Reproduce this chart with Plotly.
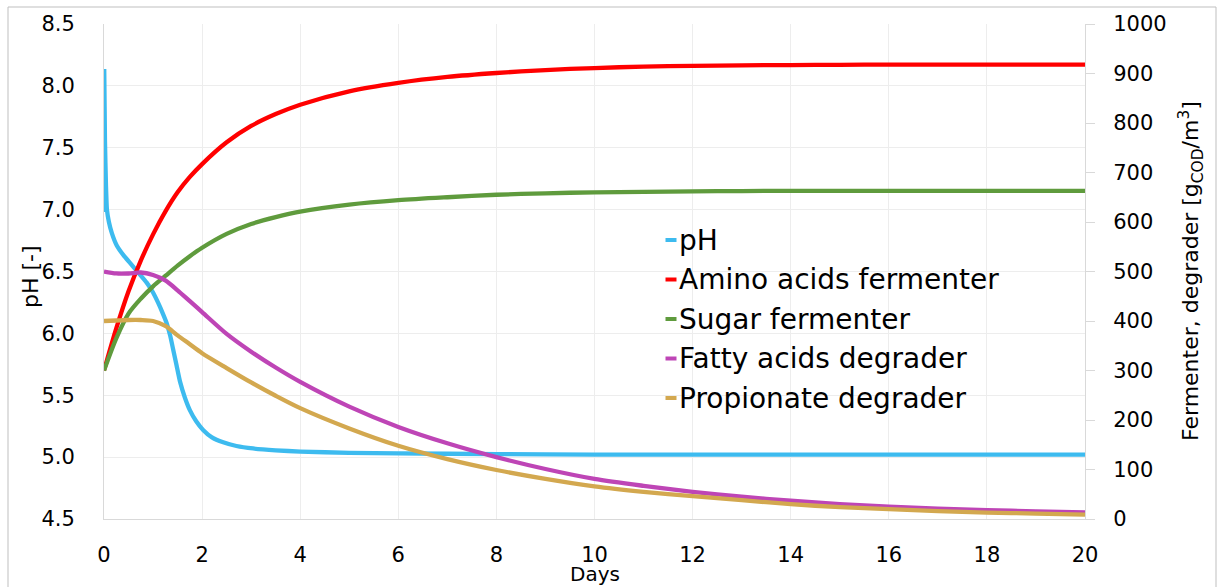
import plotly.graph_objects as go

# ---- data -------------------------------------------------------------
days = [0, 0.25, 0.5, 0.75, 1, 1.25, 1.5, 1.75, 2, 2.5, 3, 3.5, 4, 5, 6, 7, 8,
        9, 10, 11, 12, 13, 14, 15, 16, 17, 18, 19, 20]

amino_acids = [300, 385, 460, 522, 575, 621, 660, 691, 717, 761, 794, 818, 837,
               864, 881, 893, 901, 907, 911, 914, 915.5, 916.5, 917, 917.5, 918,
               918, 918, 918, 918]
sugar = [300, 365, 415, 445, 470, 491, 512, 531, 548, 576, 596, 610, 621, 635,
         644, 650, 655, 658, 660, 661, 662, 662.5, 663, 663, 663, 663, 663, 663, 663]
fatty_acids = [500, 496, 496, 498, 493, 482, 462, 440, 418, 374, 338, 306, 277,
               227, 186, 153, 125, 101, 81, 67, 55, 45, 37, 30, 25, 21, 18, 15.5, 13.5]
propionate = [400, 401, 402, 402, 400, 390, 371, 353, 335, 305, 276, 249, 224,
              183, 148, 121, 99, 81, 66, 55, 46, 38, 30, 24, 20, 16, 13, 11, 9]

ph_days = [0, 0.005, 0.02, 0.04, 0.06, 0.1, 0.16, 0.26, 0.4, 0.53, 0.7, 0.87,
           1.0, 1.1, 1.2, 1.28, 1.35, 1.41, 1.48, 1.55, 1.65, 1.75, 1.88, 2.02,
           2.2, 2.43, 2.7, 3.04, 3.5, 4, 5, 6, 8, 10, 12, 14, 16, 18, 20]
ph = [6.98, 8.12, 7.55, 7.2, 7.0, 6.9, 6.81, 6.71, 6.63, 6.57, 6.49, 6.41, 6.33,
      6.25, 6.16, 6.08, 5.98, 5.87, 5.74, 5.61, 5.48, 5.38, 5.29, 5.22, 5.16,
      5.12, 5.09, 5.07, 5.055, 5.045, 5.035, 5.03, 5.025, 5.02, 5.02, 5.02,
      5.02, 5.02, 5.02]

names = ["pH", "Amino acids fermenter", "Sugar fermenter",
         "Fatty acids degrader", "Propionate degrader"]
colors = ["#3DBBEF", "#FF0000", "#5F9B3D", "#BE45B6", "#D3A84F"]

FONT = "DejaVu Sans"
GRID = "#EDEDED"
AXIS = "#D9D9D9"
LINE_W = 4.3

fig = go.Figure()

fig.add_trace(go.Scatter(x=ph_days, y=ph, name=names[0], mode="lines",
                         line=dict(color=colors[0], width=LINE_W,
                                   shape="spline", smoothing=0.5),
                         yaxis="y", showlegend=False))

for name, col, vals in zip(names[1:], colors[1:],
                           [amino_acids, sugar, fatty_acids, propionate]):
    fig.add_trace(go.Scatter(x=days, y=vals, name=name, mode="lines",
                             line=dict(color=col, width=LINE_W, shape="spline",
                                       smoothing=0.8),
                             yaxis="y2", showlegend=False))

# ---- legend (short swatch directly before each label) ------------------
plot_h = 495.0
plot_w = 981.0
leg_top_px = 240.0
leg_step_px = 39.5
sw_x0 = (665.5 - 104) / plot_w
sw_x1 = (676.5 - 104) / plot_w
txt_x = (676.5 - 104) / plot_w

shapes = []
annotations = []
for i, (name, col) in enumerate(zip(names, colors)):
    ypx = leg_top_px + i * leg_step_px
    yp = (519 - ypx) / plot_h
    shapes.append(dict(type="line", xref="paper", yref="paper",
                       x0=sw_x0, x1=sw_x1, y0=yp, y1=yp,
                       line=dict(color=col, width=4)))
    annotations.append(dict(xref="paper", yref="paper", x=txt_x, y=yp,
                            xanchor="left", yanchor="middle", showarrow=False,
                            text=name, font=dict(family=FONT, size=28,
                                                 color="black")))

# outer chart border
shapes.append(dict(type="rect", xref="paper", yref="paper",
                   x0=(8 - 104) / plot_w, x1=(1216 - 104) / plot_w,
                   y0=(519 - 7) / plot_h, y1=(519 - 620) / plot_h,
                   line=dict(color="#BFBFBF", width=1), layer="below"))

# axis titles
annotations.append(dict(xref="paper", yref="paper",
                        x=(30 - 104) / plot_w, y=(519 - 277) / plot_h,
                        xanchor="center", yanchor="middle", textangle=-90,
                        showarrow=False, text="pH [-]",
                        font=dict(family=FONT, size=22, color="black")))
annotations.append(dict(xref="paper", yref="paper",
                        x=(1191 - 104) / plot_w, y=(519 - 271) / plot_h,
                        xanchor="center", yanchor="middle", textangle=-90,
                        showarrow=False,
                        text="Fermenter, degrader [g<sub>COD</sub>/m<sup>3</sup>]",
                        font=dict(family=FONT, size=22, color="black")))
annotations.append(dict(xref="paper", yref="paper",
                        x=0.5, y=(519 - 574) / plot_h,
                        xanchor="center", yanchor="middle",
                        showarrow=False, text="Days",
                        font=dict(family=FONT, size=20, color="black")))

tick_font = dict(family=FONT, size=21, color="black")

fig.update_layout(
    width=1218, height=587,
    margin=dict(l=104, r=133, t=24, b=68),
    paper_bgcolor="white", plot_bgcolor="white",
    showlegend=False,
    font=dict(family=FONT, color="black"),
    xaxis=dict(range=[0, 20], dtick=2, tick0=0, showgrid=True,
               gridcolor=GRID, gridwidth=1, showline=True, linecolor=AXIS,
               linewidth=1, ticks="", zeroline=False, tickfont=tick_font,
               ticklabelstandoff=17),
    yaxis=dict(range=[4.5, 8.5], dtick=0.5, tick0=4.5, tickformat=".1f",
               showgrid=True, gridcolor=GRID, gridwidth=1, showline=True,
               linecolor=AXIS, linewidth=1, ticks="", zeroline=False,
               tickfont=tick_font, ticklabelstandoff=24),
    yaxis2=dict(range=[0, 1000], dtick=100, tick0=0, overlaying="y",
                side="right", showgrid=False, showline=True, linecolor=AXIS,
                linewidth=1, ticks="outside", ticklen=9, tickcolor=AXIS,
                tickwidth=1, zeroline=False, tickfont=tick_font,
                ticklabelstandoff=14),
    shapes=shapes,
    annotations=annotations,
)

fig.write_html("out.html")
